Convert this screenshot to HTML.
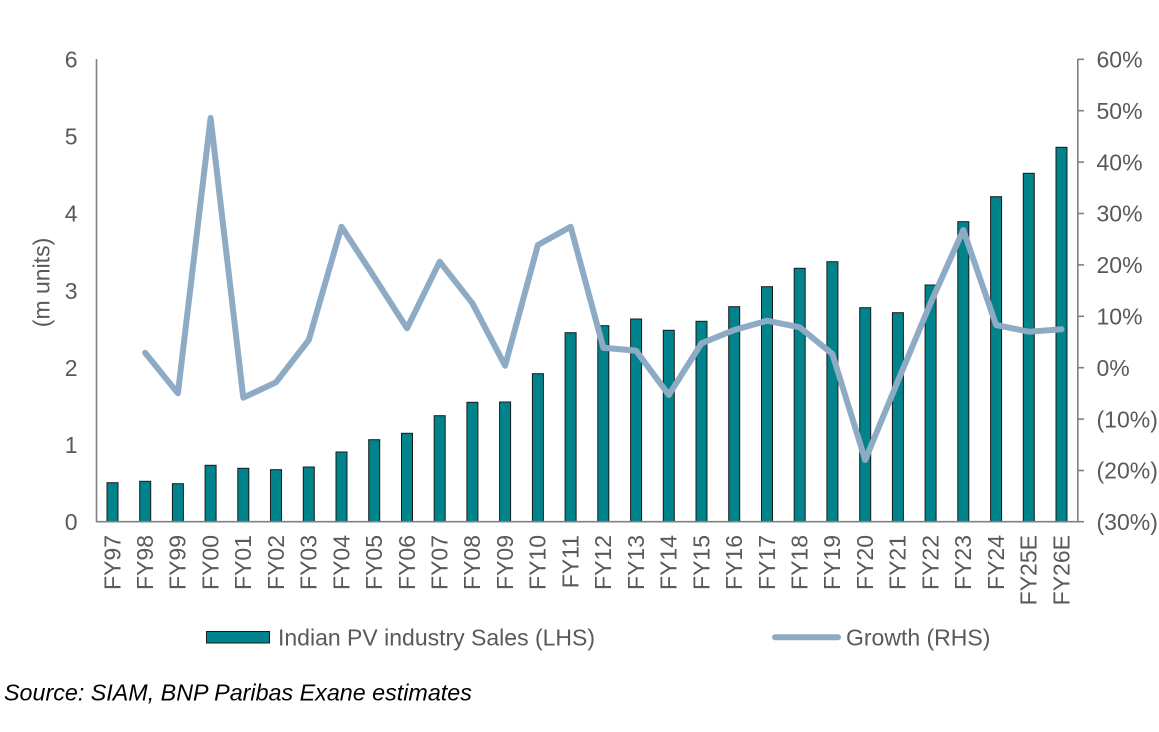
<!DOCTYPE html>
<html>
<head>
<meta charset="utf-8">
<style>
  html, body { margin:0; padding:0; background:#ffffff; }
  svg { display:block; }
  text { font-family: "Liberation Sans", Arial, sans-serif; }
</style>
</head>
<body>
<svg width="1159" height="732" viewBox="0 0 1159 732" xmlns="http://www.w3.org/2000/svg">
  <rect width="1159" height="732" fill="#ffffff"/>

  <!-- Bars -->
  <g fill="#00838A" stroke="#1a1a1a" stroke-width="1">
    <rect x="107.0" y="482.7" width="11" height="39.0"/>
    <rect x="139.7" y="481.3" width="11" height="40.4"/>
    <rect x="172.4" y="483.7" width="11" height="38.0"/>
    <rect x="205.1" y="465.3" width="11" height="56.4"/>
    <rect x="237.8" y="468.3" width="11" height="53.4"/>
    <rect x="270.5" y="469.7" width="11" height="52.0"/>
    <rect x="303.3" y="467.0" width="11" height="54.7"/>
    <rect x="336.0" y="452.0" width="11" height="69.7"/>
    <rect x="368.7" y="439.7" width="11" height="82.0"/>
    <rect x="401.5" y="433.3" width="11" height="88.4"/>
    <rect x="434.2" y="415.7" width="11" height="106.0"/>
    <rect x="466.9" y="402.3" width="11" height="119.4"/>
    <rect x="499.6" y="402.0" width="11" height="119.7"/>
    <rect x="532.4" y="373.7" width="11" height="148.0"/>
    <rect x="565.1" y="332.7" width="11" height="189.0"/>
    <rect x="597.8" y="325.7" width="11" height="196.0"/>
    <rect x="630.6" y="319.0" width="11" height="202.7"/>
    <rect x="663.3" y="330.3" width="11" height="191.4"/>
    <rect x="696.0" y="321.3" width="11" height="200.4"/>
    <rect x="728.7" y="306.7" width="11" height="215.0"/>
    <rect x="761.5" y="286.7" width="11" height="235.0"/>
    <rect x="794.2" y="268.3" width="11" height="253.4"/>
    <rect x="826.9" y="261.7" width="11" height="260.0"/>
    <rect x="859.7" y="307.7" width="11" height="214.0"/>
    <rect x="892.4" y="312.7" width="11" height="209.0"/>
    <rect x="925.1" y="285.0" width="11" height="236.7"/>
    <rect x="957.8" y="221.7" width="11" height="300.0"/>
    <rect x="990.6" y="196.7" width="11" height="325.0"/>
    <rect x="1023.3" y="173.3" width="11" height="348.4"/>
    <rect x="1056.0" y="147.3" width="11" height="374.4"/>
  </g>

  <!-- Axes -->
  <g stroke="#808080" stroke-width="1.6" fill="none">
    <line x1="96.5" y1="59" x2="96.5" y2="522"/>
    <line x1="96" y1="521.7" x2="1078" y2="521.7"/>
    <line x1="1077.8" y1="59" x2="1077.8" y2="522"/>
    <line x1="1077.8" y1="59.3" x2="1084" y2="59.3"/>
    <line x1="1077.8" y1="110.7" x2="1084" y2="110.7"/>
    <line x1="1077.8" y1="162.1" x2="1084" y2="162.1"/>
    <line x1="1077.8" y1="213.5" x2="1084" y2="213.5"/>
    <line x1="1077.8" y1="264.9" x2="1084" y2="264.9"/>
    <line x1="1077.8" y1="316.3" x2="1084" y2="316.3"/>
    <line x1="1077.8" y1="367.7" x2="1084" y2="367.7"/>
    <line x1="1077.8" y1="419.1" x2="1084" y2="419.1"/>
    <line x1="1077.8" y1="470.5" x2="1084" y2="470.5"/>
    <line x1="1077.8" y1="521.7" x2="1084" y2="521.7"/>
  </g>

  <!-- Growth line -->
  <polyline fill="none" stroke="#8EABC6" stroke-width="6" stroke-linejoin="round" stroke-linecap="round"
    points="145.1,352.7 177.9,393.3 210.6,118 243.3,397.7 276.0,382.3 308.8,340 341.5,226.7 374.2,277 407.0,328.3 439.7,261.7 472.4,303.3 505.1,365.7 537.9,245 570.6,226.7 603.3,347.7 636.1,350.7 668.8,395 701.5,343.3 734.2,330 767.0,320.7 799.7,327.3 832.4,354 865.2,460 897.9,381 930.6,303 963.3,230 996.1,325 1028.8,331.7 1061.5,329.3"/>

  <!-- Left tick labels -->
  <g fill="#595959" font-size="23" text-anchor="end">
    <text x="77.5" y="67.5">6</text>
    <text x="77.5" y="144.6">5</text>
    <text x="77.5" y="221.7">4</text>
    <text x="77.5" y="298.8">3</text>
    <text x="77.5" y="376.0">2</text>
    <text x="77.5" y="453.1">1</text>
    <text x="77.5" y="530.2">0</text>
  </g>

  <!-- Y axis title -->
  <text transform="translate(49.5,282.5) rotate(-90)" fill="#595959" font-size="23" text-anchor="middle">(m units)</text>

  <!-- Right tick labels -->
  <g fill="#595959" font-size="23" text-anchor="start">
    <text x="1096.5" y="67.5">60%</text>
    <text x="1096.5" y="118.9">50%</text>
    <text x="1096.5" y="170.3">40%</text>
    <text x="1096.5" y="221.7">30%</text>
    <text x="1096.5" y="273.1">20%</text>
    <text x="1096.5" y="324.5">10%</text>
    <text x="1096.5" y="375.9">0%</text>
    <text x="1096.5" y="427.3">(10%)</text>
    <text x="1096.5" y="478.7">(20%)</text>
    <text x="1096.5" y="530.1">(30%)</text>
  </g>

  <!-- X labels -->
  <g fill="#595959" font-size="23" text-anchor="end">
    <text transform="translate(120.3,535) rotate(-90)">FY97</text>
    <text transform="translate(153.0,535) rotate(-90)">FY98</text>
    <text transform="translate(185.7,535) rotate(-90)">FY99</text>
    <text transform="translate(218.4,535) rotate(-90)">FY00</text>
    <text transform="translate(251.1,535) rotate(-90)">FY01</text>
    <text transform="translate(283.8,535) rotate(-90)">FY02</text>
    <text transform="translate(316.6,535) rotate(-90)">FY03</text>
    <text transform="translate(349.3,535) rotate(-90)">FY04</text>
    <text transform="translate(382.0,535) rotate(-90)">FY05</text>
    <text transform="translate(414.8,535) rotate(-90)">FY06</text>
    <text transform="translate(447.5,535) rotate(-90)">FY07</text>
    <text transform="translate(480.2,535) rotate(-90)">FY08</text>
    <text transform="translate(512.9,535) rotate(-90)">FY09</text>
    <text transform="translate(545.7,535) rotate(-90)">FY10</text>
    <text transform="translate(578.4,535) rotate(-90)">FY11</text>
    <text transform="translate(611.1,535) rotate(-90)">FY12</text>
    <text transform="translate(643.9,535) rotate(-90)">FY13</text>
    <text transform="translate(676.6,535) rotate(-90)">FY14</text>
    <text transform="translate(709.3,535) rotate(-90)">FY15</text>
    <text transform="translate(742.0,535) rotate(-90)">FY16</text>
    <text transform="translate(774.8,535) rotate(-90)">FY17</text>
    <text transform="translate(807.5,535) rotate(-90)">FY18</text>
    <text transform="translate(840.2,535) rotate(-90)">FY19</text>
    <text transform="translate(873.0,535) rotate(-90)">FY20</text>
    <text transform="translate(905.7,535) rotate(-90)">FY21</text>
    <text transform="translate(938.4,535) rotate(-90)">FY22</text>
    <text transform="translate(971.1,535) rotate(-90)">FY23</text>
    <text transform="translate(1003.9,535) rotate(-90)">FY24</text>
    <text transform="translate(1036.6,535) rotate(-90)">FY25E</text>
    <text transform="translate(1069.3,535) rotate(-90)">FY26E</text>
  </g>

  <!-- Legend -->
  <rect x="206.5" y="631.5" width="63" height="11.5" fill="#00838A" stroke="#1a1a1a" stroke-width="1"/>
  <text x="278" y="645.3" fill="#595959" font-size="23">Indian PV industry Sales (LHS)</text>
  <line x1="775" y1="637.3" x2="838" y2="637.3" stroke="#8EABC6" stroke-width="6" stroke-linecap="round"/>
  <text x="846" y="645.3" fill="#595959" font-size="23">Growth (RHS)</text>

  <!-- Source -->
  <text x="4" y="700.7" fill="#000000" font-size="23.3" font-style="italic">Source: SIAM, BNP Paribas Exane estimates</text>
</svg>
</body>
</html>
